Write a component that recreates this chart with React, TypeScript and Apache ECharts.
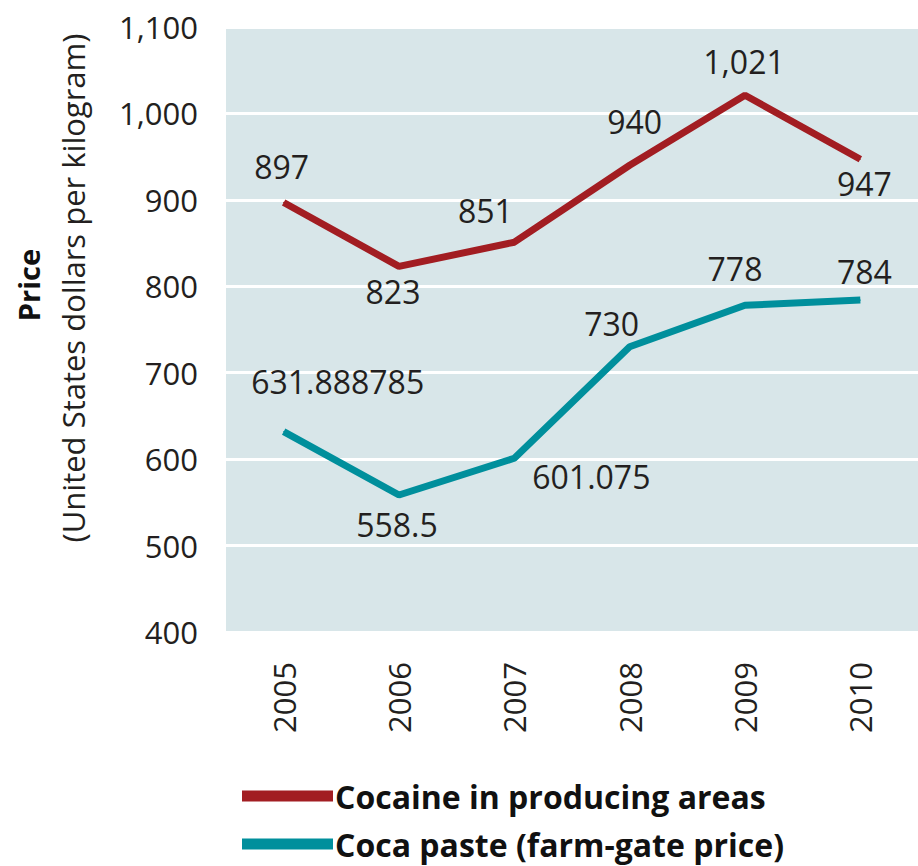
import React, { useEffect, useRef } from "react";
import * as echarts from "echarts";

const years = ["2005", "2006", "2007", "2008", "2009", "2010"];
const cocaine = [897, 823, 851, 940, 1021, 947];
const cocaPaste = [631.888785, 558.5, 601.075, 730, 778, 784];
const yTicks = { min: 400, max: 1100, interval: 100 };
const seriesNames = ["Cocaine in producing areas", "Coca paste (farm-gate price)"];
const yTitle = "Price";
const ySubTitle = "(United States dollars per kilogram)";

// label placement (offsets from the point, in px)
const cocaineLabelOffsets = [[-2, -36], [-6, 25], [-29, -32], [5, -44], [-1, -34], [4, 24]];
const pasteLabelOffsets = [[54, -50], [-2, 29], [77, 18], [-18, -23], [-10, -37], [4, -29]];
const legendTops = [775, 823];

const FONT = "Open Sans";
const TEXT = "#231f20";
const RED = "#a21d22";
const TEAL = "#008f9c";

export default function App() {
  const ref = useRef<HTMLDivElement>(null);
  useEffect(() => {
    document.body.style.margin = "0";
    const chart = echarts.init(ref.current!, null, { renderer: "svg" });
    const fmt = (v: number) => v.toLocaleString("en-US");
    const mk = (vals: number[], offs: number[][], useComma: boolean) =>
      vals.map((v, i) => ({
        value: v,
        label: {
          show: true,
          position: "inside",
          offset: offs[i],
          formatter: () => (useComma ? fmt(v) : String(v)),
        },
      }));
    const labelStyle = { color: TEXT, fontFamily: FONT, fontSize: 32 };
    const legendOf = (i: number) => ({
      orient: "horizontal",
      left: 237,
      top: legendTops[i],
      icon: "rect",
      itemWidth: 91,
      itemHeight: 11,
      selectedMode: false,
      data: [seriesNames[i]],
      textStyle: { color: "#111", fontFamily: FONT, fontWeight: "bold", fontSize: 32, padding: [0, 0, 0, -3] },
    });
    chart.setOption({
      animation: false,
      grid: {
        left: 226,
        top: 27,
        width: 697,
        height: 605,
        show: true,
        backgroundColor: "#d8e6e9",
        borderWidth: 0,
      },
      legend: [legendOf(0), legendOf(1)],
      xAxis: {
        type: "category",
        data: years,
        boundaryGap: true,
        axisLine: { show: false },
        axisTick: { show: false },
        splitLine: { show: false },
        axisLabel: { rotate: 90, margin: 30, color: TEXT, fontFamily: FONT, fontSize: 31 },
      },
      yAxis: {
        type: "value",
        min: yTicks.min,
        max: yTicks.max,
        interval: yTicks.interval,
        axisLine: { show: false },
        axisTick: { show: false },
        splitLine: { show: true, lineStyle: { color: "#ffffff", width: 3 } },
        axisLabel: { margin: 28, color: TEXT, fontFamily: FONT, fontSize: 31, formatter: (v: number) => fmt(v) },
      },
      graphic: [
        {
          type: "text",
          x: 28,
          y: 285,
          rotation: Math.PI / 2,
          style: { text: yTitle, fill: "#111", font: `bold 29px "${FONT}"`, align: "center", verticalAlign: "middle" },
        },
        {
          type: "text",
          x: 73,
          y: 288,
          rotation: Math.PI / 2,
          style: { text: ySubTitle, fill: TEXT, font: `31px "${FONT}"`, align: "center", verticalAlign: "middle" },
        },
      ],
      series: [
        {
          name: seriesNames[0],
          type: "line",
          data: mk(cocaine, cocaineLabelOffsets, true),
          symbol: "circle",
          symbolSize: 1,
          showSymbol: true,
          itemStyle: { color: RED },
          lineStyle: { color: RED, width: 7 },
          label: labelStyle,
          emphasis: { disabled: true },
        },
        {
          name: seriesNames[1],
          type: "line",
          data: mk(cocaPaste, pasteLabelOffsets, false),
          symbol: "circle",
          symbolSize: 1,
          showSymbol: true,
          itemStyle: { color: TEAL },
          lineStyle: { color: TEAL, width: 7 },
          label: labelStyle,
          emphasis: { disabled: true },
        },
      ],
    });
    return () => chart.dispose();
  }, []);
  return <div ref={ref} style={{ width: 918, height: 866, position: "absolute", left: 0, top: 0 }} />;
}
